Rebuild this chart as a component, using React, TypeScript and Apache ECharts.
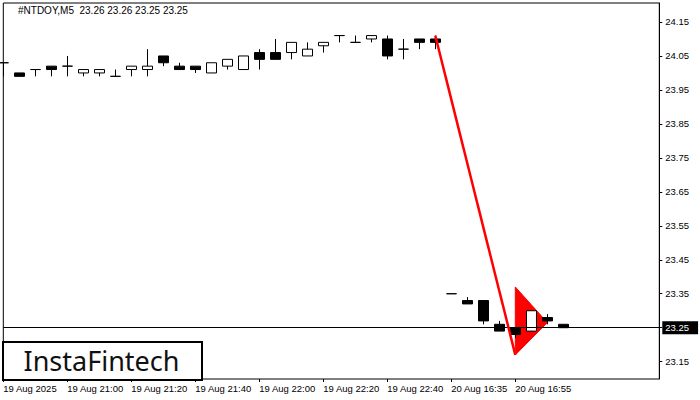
import React, { useEffect, useRef } from "react";
import * as echarts from "echarts";

// ---- data ----
const categories = [
  "19 Aug 20:40", "19 Aug 20:45", "19 Aug 20:50", "19 Aug 20:55",
  "19 Aug 21:00", "19 Aug 21:05", "19 Aug 21:10", "19 Aug 21:15",
  "19 Aug 21:20", "19 Aug 21:25", "19 Aug 21:30", "19 Aug 21:35",
  "19 Aug 21:40", "19 Aug 21:45", "19 Aug 21:50", "19 Aug 21:55",
  "19 Aug 22:00", "19 Aug 22:05", "19 Aug 22:10", "19 Aug 22:15",
  "19 Aug 22:20", "19 Aug 22:25", "19 Aug 22:30", "19 Aug 22:35",
  "19 Aug 22:40", "19 Aug 22:45", "19 Aug 22:50", "19 Aug 22:55",
  "20 Aug 16:35", "20 Aug 16:40", "20 Aug 16:45", "20 Aug 16:50",
  "20 Aug 16:55", "20 Aug 17:00", "20 Aug 17:05", "20 Aug 17:10",
  "20 Aug 17:15", "20 Aug 17:20", "20 Aug 17:25", "20 Aug 17:30",
  "20 Aug 17:35", "20 Aug 17:40",
];

const opens = [
  24.03, 24.00, 24.01, 24.02, 24.02, 24.00, 24.00, 23.99, 24.01, 24.01,
  24.05, 24.02, 24.02, 24.00, 24.02, 24.01, 24.06, 24.06, 24.06, 24.05,
  24.08, 24.11, 24.09, 24.10, 24.10, 24.07, 24.10, 24.10,
  23.35, 23.33, 23.33, 23.26, 23.25, 23.24, 23.28, 23.26,
];
const closes = [
  24.03, 23.99, 24.01, 24.01, 24.02, 24.01, 24.01, 23.99, 24.02, 24.02,
  24.03, 24.01, 24.01, 24.03, 24.04, 24.05, 24.04, 24.04, 24.09, 24.07,
  24.09, 24.11, 24.09, 24.11, 24.05, 24.07, 24.09, 24.09,
  23.35, 23.32, 23.27, 23.24, 23.23, 23.30, 23.27, 23.25,
];
const lows = [
  23.99, 23.99, 23.99, 23.99, 23.99, 23.99, 23.99, 23.99, 23.99, 23.99,
  24.02, 24.01, 24.00, 24.00, 24.01, 24.01, 24.01, 24.04, 24.04, 24.05,
  24.06, 24.09, 24.09, 24.09, 24.04, 24.04, 24.07, 24.07,
  23.35, 23.32, 23.26, 23.24, 23.22, 23.24, 23.26, 23.25,
];
const highs = [
  24.03, 24.00, 24.01, 24.02, 24.05, 24.01, 24.01, 24.01, 24.02, 24.07,
  24.05, 24.03, 24.02, 24.03, 24.04, 24.05, 24.07, 24.10, 24.09, 24.09,
  24.09, 24.11, 24.11, 24.11, 24.11, 24.10, 24.10, 24.11,
  23.35, 23.34, 23.33, 23.27, 23.25, 23.30, 23.29, 23.26,
];

const xTickIndices = [0, 4, 8, 12, 16, 20, 24, 28, 32];
const xTickLabels = [
  "19 Aug 2025", "19 Aug 21:00", "19 Aug 21:20", "19 Aug 21:40",
  "19 Aug 22:00", "19 Aug 22:20", "19 Aug 22:40", "20 Aug 16:35", "20 Aug 16:55",
];
const yTickValues = [24.15, 24.05, 23.95, 23.85, 23.75, 23.65, 23.55, 23.45, 23.35, 23.25, 23.15];

const currentPrice = 23.25;

// trend line (pole) and pennant
const poleX = [27, 32];
const poleY = [24.11, 23.17];
const pennantX = [32, 32, 34];
const pennantY = [23.37, 23.17, 23.265];

const titleText = "#NTDOY,M5  23.26 23.26 23.25 23.25";

const FONT = "Liberation Sans";

export default function App() {
  const ref = useRef<HTMLDivElement>(null);

  useEffect(() => {
    if (!ref.current) return;
    const chart = echarts.init(ref.current, null, { renderer: "svg" });

    const candleData = opens.map((o, i) => [o, closes[i], lows[i], highs[i]]);
    const poleData = poleX.map((x, i) => [x, poleY[i]]);
    const pennantData = pennantX.map((x, i) => [x, pennantY[i]]);

    const option: any = {
      animation: false,
      backgroundColor: "#ffffff",
      title: {
        text: titleText,
        left: 18,
        top: 5,
        padding: 0,
        textStyle: { fontSize: 10, fontWeight: "normal", color: "#000", fontFamily: FONT },
      },
      grid: {
        left: 3.3,
        right: 40.7,
        top: 3,
        bottom: 21,
        show: true,
        borderColor: "#000",
        borderWidth: 1,
        backgroundColor: "#fff",
      },
      xAxis: {
        type: "category",
        data: categories,
        boundaryGap: false,
        axisLine: { show: false },
        axisTick: {
          show: true,
          length: 3,
          interval: (index: number) => xTickIndices.includes(index),
          lineStyle: { color: "#000" },
        },
        axisLabel: {
          show: true,
          interval: (index: number) => xTickIndices.includes(index),
          formatter: (_v: string, index: number) => {
            const k = xTickIndices.indexOf(index);
            return k >= 0 ? xTickLabels[k] : "";
          },
          align: "left",
          margin: 4,
          fontSize: 9.5,
          color: "#000",
          fontFamily: FONT,
        },
        splitLine: { show: false },
      },
      yAxis: {
        type: "value",
        position: "right",
        min: 23.099,
        max: 24.2059,
        axisLine: { show: true, lineStyle: { color: "#000" } },
        axisTick: {
          show: true,
          length: 3,
          customValues: yTickValues,
          lineStyle: { color: "#000" },
        },
        axisLabel: {
          show: true,
          customValues: yTickValues.filter((v) => v !== currentPrice),
          formatter: (v: number) => Number(v).toFixed(2),
          margin: 6,
          fontSize: 9.5,
          color: "#000",
          fontFamily: FONT,
        },
        splitLine: { show: false },
      },
      series: [
        {
          type: "custom",
          z: 1,
          data: pennantData,
          renderItem: (params: any, api: any) => {
            if (params.dataIndex !== 0) return null;
            const pts = pennantData.map((d) => api.coord(d));
            return {
              type: "polygon",
              shape: { points: pts },
              style: { fill: "#ff0000", stroke: "#ff0000", lineWidth: 1 },
            };
          },
        },
        {
          type: "candlestick",
          z: 3,
          data: candleData,
          barWidth: 10,
          itemStyle: {
            color: "#ffffff",
            color0: "#000000",
            borderColor: "#000000",
            borderColor0: "#000000",
            borderWidth: 1,
          },
          markLine: {
            silent: true,
            symbol: ["none", "none"],
            lineStyle: { color: "#000", width: 1, type: "solid" },
            label: {
              show: true,
              position: "end",
              formatter: currentPrice.toFixed(2),
              backgroundColor: "#000",
              color: "#fff",
              padding: [2, 9, 1, 3],
              fontSize: 9.5,
              fontFamily: FONT,
              distance: 3,
            },
            data: [{ yAxis: currentPrice }],
          },
        },
        {
          type: "line",
          z: 5,
          data: poleData,
          symbol: "none",
          lineStyle: { color: "#ff0000", width: 2.5 },
        },
      ],
      graphic: [
        {
          type: "rect",
          left: 2,
          top: 341,
          shape: { width: 199, height: 38 },
          style: { fill: "#fff", stroke: "#000", lineWidth: 2 },
          z: 100,
        },
        {
          type: "text",
          x: 101.5,
          y: 360,
          style: {
            text: "InstaFintech",
            fontSize: 27,
            fontFamily: "Noto Sans",
            fill: "#111",
            align: "center",
            verticalAlign: "middle",
          },
          z: 101,
        },
      ],
    };

    chart.setOption(option);
    return () => chart.dispose();
  }, []);

  return (
    <div
      ref={ref}
      style={{ position: "fixed", left: 0, top: 0, width: 700, height: 400 }}
    />
  );
}
